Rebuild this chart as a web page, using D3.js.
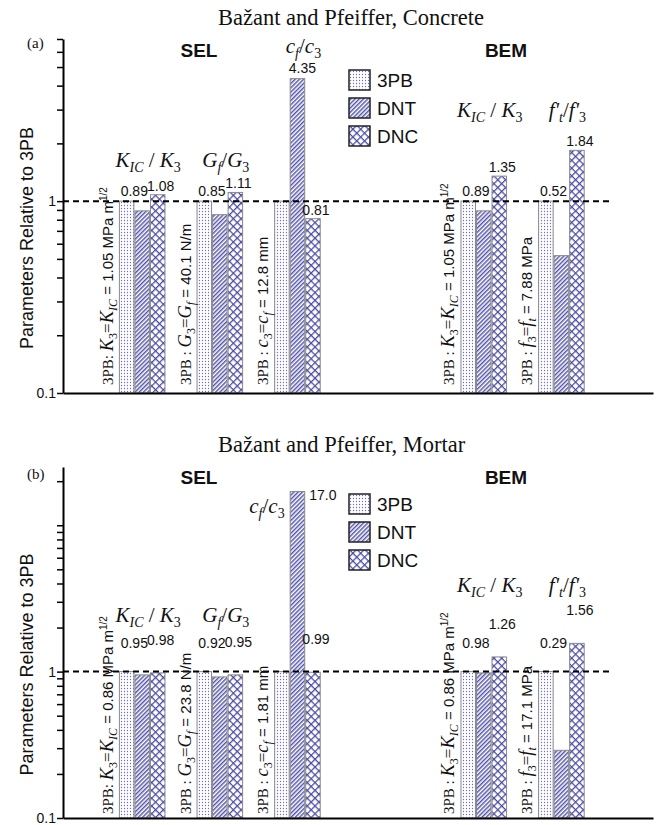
<!DOCTYPE html>
<html>
<head>
<meta charset="utf-8">
<script src="https://cdn.jsdelivr.net/npm/d3@7"></script>
<style>
  body { margin: 0; background: #fff; }
  svg text { white-space: pre; }
</style>
</head>
<body>
<svg id="chart" width="665" height="825"></svg>
<script>
// ---- data -------------------------------------------------------------
const seriesNames = ["3PB", "DNT", "DNC"];
const groupMethods = ["SEL", "SEL", "SEL", "BEM", "BEM"];
const groupParams  = ["K", "G", "c", "K", "f"];

const concrete3PB = [1, 1, 1, 1, 1];
const concreteDNT = [0.89, 0.85, 4.35, 0.89, 0.52];
const concreteDNC = [1.08, 1.11, 0.81, 1.35, 1.84];
const concreteRefValues = ["1.05 MPa m", "40.1 N/m", "12.8 mm", "1.05 MPa m", "7.88 MPa"];

const mortar3PB = [1, 1, 1, 1, 1];
const mortarDNT = [0.95, 0.92, 17.0, 0.98, 0.29];
const mortarDNC = [0.98, 0.95, 0.99, 1.26, 1.56];
const mortarRefValues = ["0.86 MPa m", "23.8 N/m", "1.81 mm", "0.86 MPa m", "17.1 MPa"];

const concreteYDomain = [0.1, 7];
const mortarYDomain = [0.1, 25];
const labeledTicks = [0.1, 1];

// ratio headings and 3PB reference annotations (rich text pieces)
const headerPieces = {
  K: [["K", "it"], ["IC", "isub"], [" / ", "rm"], ["K", "it"], ["3", "sub"]],
  G: [["G", "it"], ["f", "isub"], ["/", "rm"], ["G", "it"], ["3", "sub"]],
  c: [["c", "it"], ["f", "isub"], ["/", "rm"], ["c", "it"], ["3", "sub"]],
  f: [["f'", "it"], ["t", "isub"], ["/", "rm"], ["f'", "it"], ["3", "sub"]]
};
const refSymbolPieces = {
  K: [["K", "it"], ["3", "sub"], ["=", "rm"], ["K", "it"], ["IC", "isub"]],
  G: [["G", "it"], ["3", "sub"], ["=", "rm"], ["G", "it"], ["f", "isub"]],
  c: [["c", "it"], ["3", "sub"], ["=", "rm"], ["c", "it"], ["f", "isub"]],
  f: [["f", "it"], ["3", "sub"], ["=", "rm"], ["f", "it"], ["t", "isub"]]
};

// ---- styling ----------------------------------------------------------
const SERIF = "'Liberation Serif','Times New Roman',Times,serif";
const SANS = "'Liberation Sans',Arial,Helvetica,sans-serif";
const INK = "#4a4aa6";

const headerStyle = {
  it:   { family: SERIF, size: 21, italic: true,  shift: 0 },
  rm:   { family: SERIF, size: 21, italic: false, shift: 0 },
  sub:  { family: SERIF, size: 14, italic: false, shift: 5 },
  isub: { family: SERIF, size: 14, italic: true,  shift: 5 }
};
const refStyle = {
  pre:  { family: SERIF, size: 15, italic: false, shift: 0 },
  it:   { family: SERIF, size: 18.5, italic: true,  shift: 0 },
  rm:   { family: SERIF, size: 17, italic: false, shift: 0 },
  sub:  { family: SERIF, size: 12, italic: false, shift: 4 },
  isub: { family: SERIF, size: 12, italic: true,  shift: 4 },
  sans: { family: SANS,  size: 15, italic: false, shift: 0 },
  sup:  { family: SANS,  size: 10, italic: false, shift: -6 }
};

function rich(textSel, pieces, styles) {
  let shift = 0;
  pieces.forEach(([txt, kind]) => {
    const st = styles[kind];
    const t = textSel.append("tspan").text(txt)
      .attr("font-family", st.family)
      .attr("font-style", st.italic ? "italic" : "normal")
      .attr("font-size", st.size);
    if (st.shift !== shift) t.attr("dy", st.shift - shift);
    shift = st.shift;
  });
}

const svg = d3.select("#chart");

// fill patterns for the three specimen types
const defs = svg.append("defs");
const pDots = defs.append("pattern").attr("id", "pat-3PB")
  .attr("patternUnits", "userSpaceOnUse").attr("width", 3).attr("height", 3);
pDots.append("rect").attr("width", 3).attr("height", 3).attr("fill", "#fff");
pDots.append("circle").attr("cx", 1.5).attr("cy", 1.5).attr("r", 0.65).attr("fill", "#6c6cc4");

const pHatch = defs.append("pattern").attr("id", "pat-DNT")
  .attr("patternUnits", "userSpaceOnUse").attr("width", 3).attr("height", 3)
  .attr("patternTransform", "rotate(45)");
pHatch.append("rect").attr("width", 3).attr("height", 3).attr("fill", "#fff");
pHatch.append("line").attr("x1", 0.75).attr("x2", 0.75).attr("y1", 0).attr("y2", 3)
  .attr("stroke", INK).attr("stroke-width", 1.4);

const pCross = defs.append("pattern").attr("id", "pat-DNC")
  .attr("patternUnits", "userSpaceOnUse").attr("width", 5.5).attr("height", 5.5)
  .attr("patternTransform", "rotate(45)");
pCross.append("rect").attr("width", 5.5).attr("height", 5.5).attr("fill", "#fff");
pCross.append("line").attr("x1", 0.6).attr("x2", 0.6).attr("y1", 0).attr("y2", 5.5)
  .attr("stroke", INK).attr("stroke-width", 1.3);
pCross.append("line").attr("y1", 0.6).attr("y2", 0.6).attr("x1", 0).attr("x2", 5.5)
  .attr("stroke", INK).attr("stroke-width", 1.3);

// ---- shared horizontal layout (one slot = one bar width) --------------
const x = d3.scaleLinear().domain([-3.6, 34.4]).range([63, 653]);
const sectionStart = { SEL: 0, BEM: 22 };
const groupSpacing = 5;
const groupSlots = (() => {
  const seen = { SEL: 0, BEM: 0 };
  return groupMethods.map(m => sectionStart[m] + groupSpacing * seen[m]++);
})();
const methodCenters = { SEL: 199, BEM: 506 };

const panels = [
  {
    tag: "(a)", title: "Bažant and Pfeiffer, Concrete",
    values: [concrete3PB, concreteDNT, concreteDNC], refs: concreteRefValues,
    yDomain: concreteYDomain, top: 39, bottom: 393,
    titleY: 25, tagY: 48, methodY: 57, legendY: 70,
    headerY: { SEL: 167, BEM: 117, big: 53 }, bigHeader: "above",
    dntGap: 5, dncGap: 4, bigLabel: "above", refLift: 8
  },
  {
    tag: "(b)", title: "Bažant and Pfeiffer, Mortar",
    values: [mortar3PB, mortarDNT, mortarDNC], refs: mortarRefValues,
    yDomain: mortarYDomain, top: 467, bottom: 818,
    titleY: 452, tagY: 479, methodY: 484, legendY: 494,
    headerY: { SEL: 622, BEM: 592, big: 513 }, bigHeader: "left",
    dntGap: 24, dncGap: 28, bigLabel: "right", refLift: 4
  }
];

function fmt(v) { return v >= 10 ? v.toFixed(1) : v.toFixed(2); }

panels.forEach(p => {
  const g = svg.append("g");
  const y = d3.scaleLog().domain(p.yDomain).range([p.bottom, p.top]);
  const base = p.yDomain[0];
  const bw = x(1) - x(0);

  // title and panel tag
  g.append("text").attr("x", 218).attr("y", p.titleY)
    .attr("font-family", SERIF).attr("font-size", 22.5).attr("fill", "#111").text(p.title);
  g.append("text").attr("x", 27).attr("y", p.tagY)
    .attr("font-family", SERIF).attr("font-size", 15).attr("fill", "#111").text(p.tag);

  // method headings
  ["SEL", "BEM"].forEach(m => {
    g.append("text").attr("x", methodCenters[m]).attr("y", p.methodY)
      .attr("text-anchor", "middle").attr("font-family", SANS).attr("font-weight", "bold")
      .attr("font-size", 19).attr("fill", "#111").text(m);
  });

  // y axis (log)
  const yAxis = d3.axisLeft(y).tickValues(y.ticks()).tickSize(6).tickSizeOuter(0)
    .tickFormat(d => labeledTicks.some(t => Math.abs(t - d) < 1e-9) ? d3.format("")(d) : "");
  const ya = g.append("g").attr("transform", `translate(${x.range()[0]},0)`).call(yAxis);
  ya.select(".domain").attr("stroke", "#000").attr("stroke-width", 2);
  ya.selectAll(".tick line").attr("stroke", "#000").attr("stroke-width", 1.5);
  ya.selectAll(".tick text").attr("font-family", SANS).attr("font-size", 14).attr("fill", "#111").attr("x", -7);

  g.append("text")
    .attr("transform", `translate(33,${(p.top + p.bottom) / 2 + 22}) rotate(-90)`)
    .attr("text-anchor", "middle").attr("font-family", SANS).attr("font-size", 18).attr("fill", "#111")
    .text("Parameters Relative to 3PB");

  // bars
  groupSlots.forEach((slot, gi) => {
    seriesNames.forEach((s, si) => {
      const v = p.values[si][gi];
      g.append("rect")
        .attr("x", x(slot + si) + 0.5).attr("width", bw - 1)
        .attr("y", y(v)).attr("height", y(base) - y(v))
        .attr("fill", `url(#pat-${s})`).attr("stroke", "#8a8a8a").attr("stroke-width", 1);
    });
  });

  // reference line at ratio 1
  g.append("line").attr("x1", x.range()[0]).attr("x2", x(31.8))
    .attr("y1", y(1)).attr("y2", y(1))
    .attr("stroke", "#000").attr("stroke-width", 2).attr("stroke-dasharray", "6,4");

  // x axis baseline
  const xa = g.append("g").attr("transform", `translate(0,${p.bottom})`)
    .call(d3.axisBottom(x).tickValues([]).tickSizeOuter(0));
  xa.select(".domain").attr("stroke", "#000").attr("stroke-width", 2);

  // value labels
  groupSlots.forEach((slot, gi) => {
    const dnt = p.values[1][gi], dnc = p.values[2][gi];
    const lab = g.append("text").attr("font-family", SANS).attr("font-size", 14).attr("fill", "#111");
    if (dnt > 2) {
      if (p.bigLabel === "above") {
        lab.attr("x", x(slot + 1.5) + 5).attr("y", y(dnt) - 6).attr("text-anchor", "middle");
      } else {
        lab.attr("x", x(slot + 2) + 4).attr("y", y(dnt) + 8).attr("text-anchor", "start");
      }
    } else {
      lab.attr("x", x(slot + 2) - 2).attr("y", y(Math.max(1, dnt)) - p.dntGap).attr("text-anchor", "end");
    }
    lab.text(fmt(dnt));
    g.append("text").attr("font-family", SANS).attr("font-size", 14).attr("fill", "#111")
      .attr("x", x(slot + 2.5) + 3).attr("y", y(dnc) - p.dncGap).attr("text-anchor", "middle")
      .text(fmt(dnc));
  });

  // ratio headings
  groupSlots.forEach((slot, gi) => {
    const param = groupParams[gi];
    const isBig = p.values[1][gi] > 2;
    const t = g.append("text").attr("fill", "#111");
    if (isBig && p.bigHeader === "left") {
      t.attr("x", x(slot + 1) - 5).attr("y", p.headerY.big).attr("text-anchor", "end");
    } else {
      t.attr("x", x(slot + 1.5) + 6)
        .attr("y", isBig ? p.headerY.big : p.headerY[groupMethods[gi]])
        .attr("text-anchor", "middle");
    }
    rich(t, headerPieces[param], headerStyle);
  });

  // 3PB reference values, written vertically beside each group
  groupSlots.forEach((slot, gi) => {
    const param = groupParams[gi];
    const prefix = (gi === 0) ? "3PB: " : "3PB : ";
    const pieces = [[prefix, "pre"], ...refSymbolPieces[param], [" = " + p.refs[gi], "sans"]];
    if (param === "K") pieces.push(["1/2", "sup"]);
    const t = g.append("text").attr("fill", "#111")
      .attr("transform", `translate(${x(slot) - 6},${p.bottom - p.refLift}) rotate(-90)`);
    rich(t, pieces, refStyle);
  });

  // legend
  const lg = g.append("g").attr("transform", `translate(349,${p.legendY})`);
  seriesNames.forEach((s, i) => {
    lg.append("rect").attr("x", 0).attr("y", i * 28).attr("width", 21).attr("height", 20)
      .attr("fill", `url(#pat-${s})`).attr("stroke", "#222").attr("stroke-width", 1.5);
    lg.append("text").attr("x", 28).attr("y", i * 28 + 17)
      .attr("font-family", SANS).attr("font-size", 19).attr("fill", "#111").text(s);
  });
});
</script>
</body>
</html>
